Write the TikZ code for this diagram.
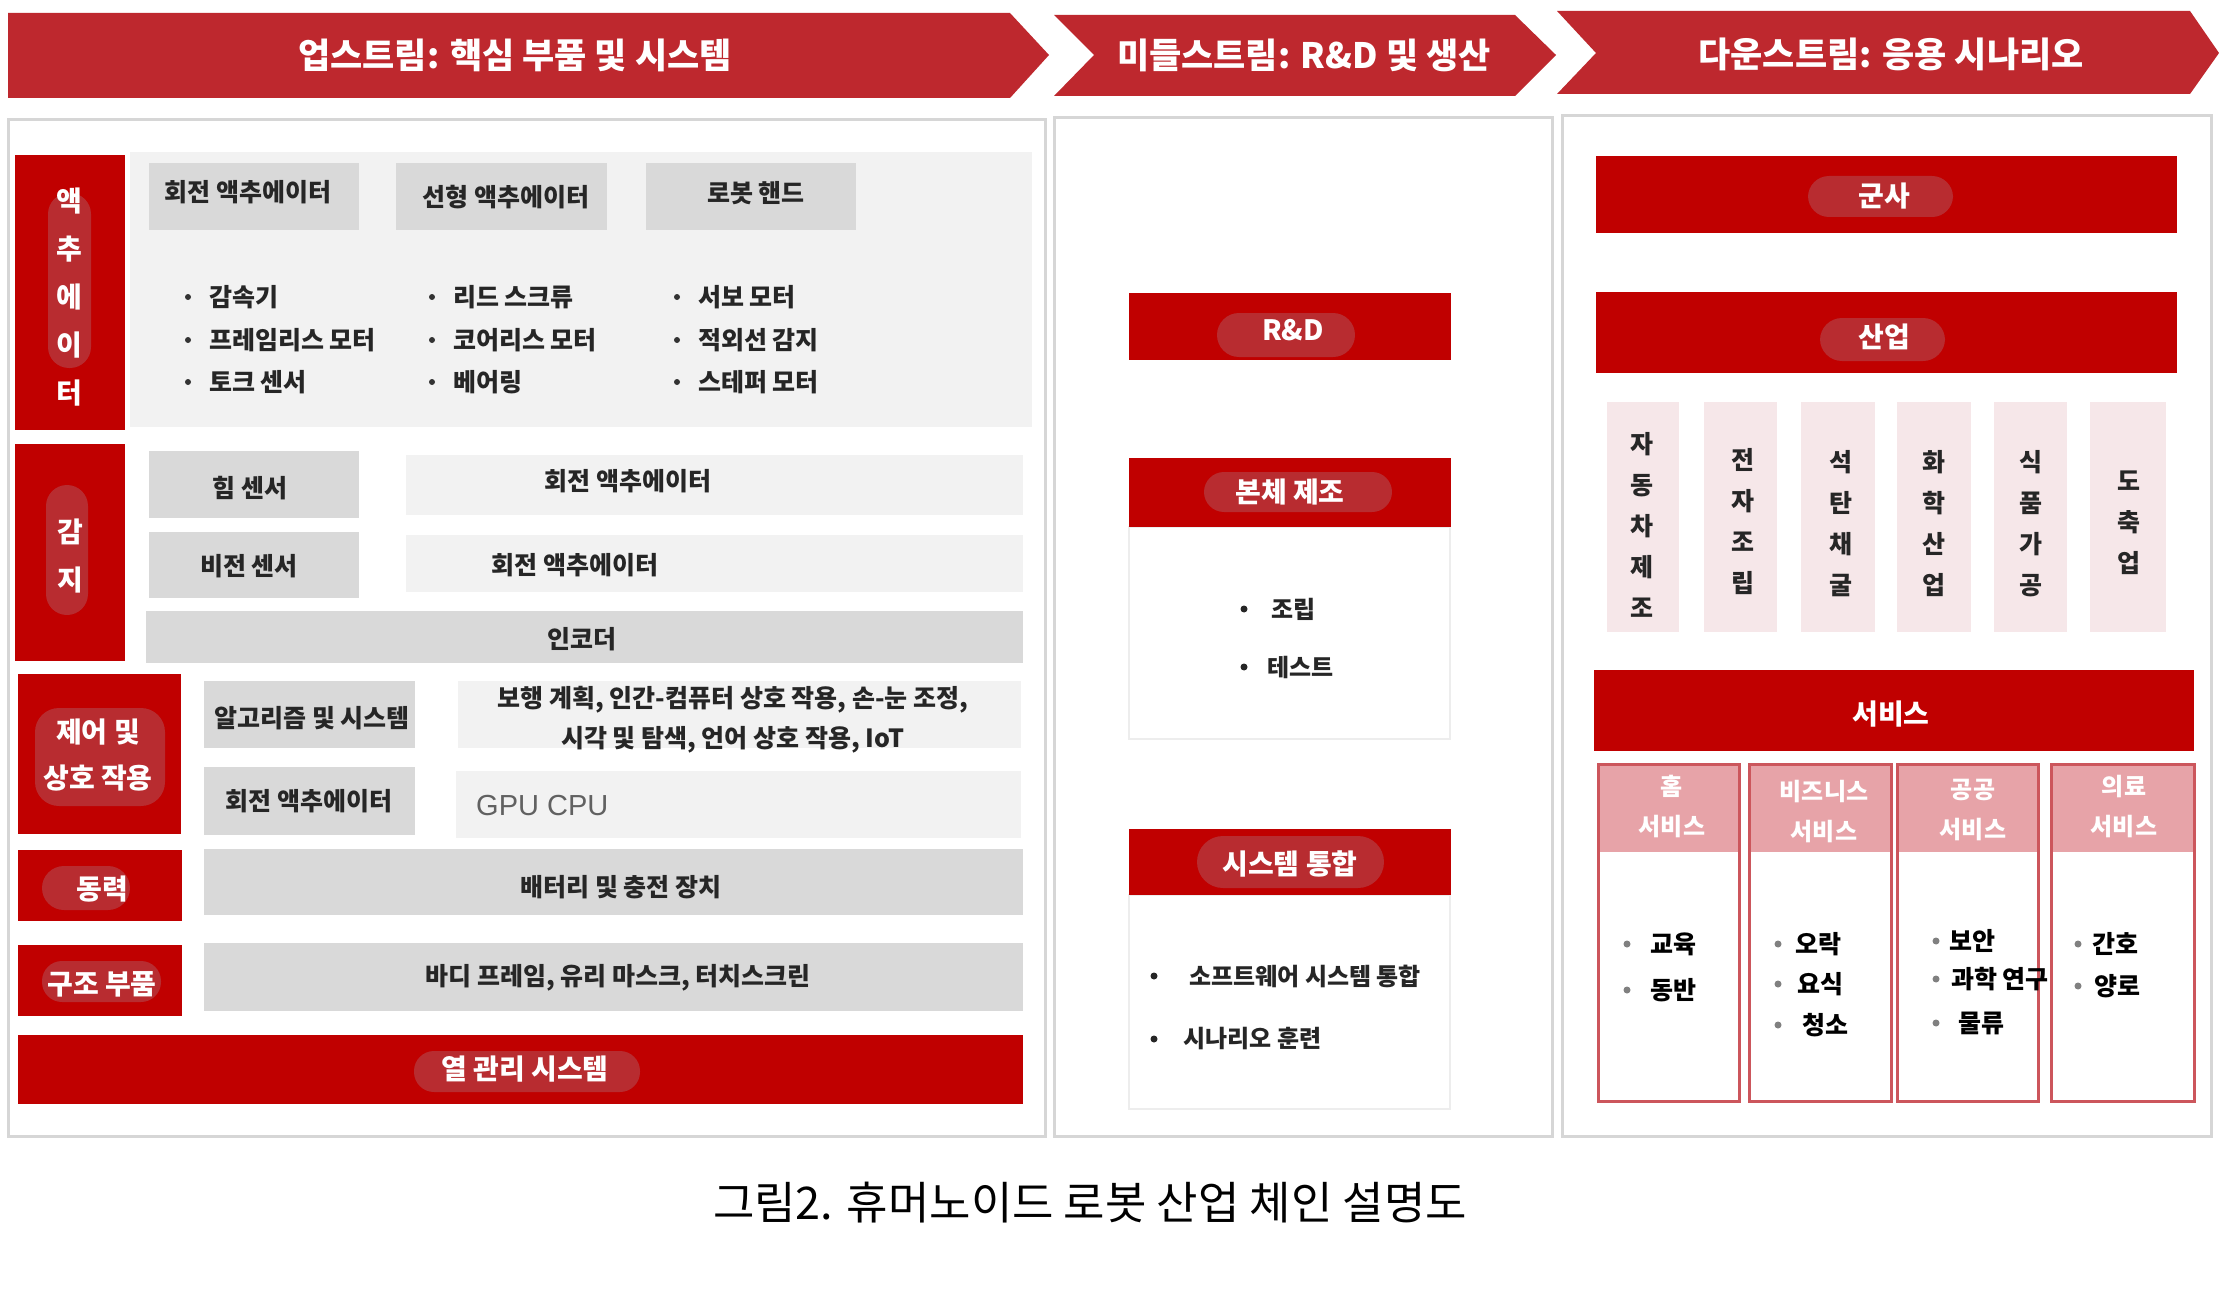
\documentclass[tikz,border=0pt]{standalone}
\usepackage{fontspec}
\usepackage{xcolor}
\usepackage{tikz}
\setmainfont{Noto Sans CJK KR}
\newfontfamily\latinsans{Liberation Sans}

\definecolor{bannerred}{RGB}{190,40,46}
\definecolor{barred}{RGB}{192,0,0}
\definecolor{pillred}{RGB}{184,44,48}
\definecolor{boxgray}{RGB}{217,217,217}
\definecolor{paleGray}{RGB}{242,242,242}
\definecolor{panelgray}{RGB}{214,214,214}
\definecolor{colpink}{RGB}{246,231,233}
\definecolor{headpink}{RGB}{231,163,168}
\definecolor{servborder}{RGB}{204,86,92}

\begin{document}
\begin{tikzpicture}[x=1pt, y=-1pt,
		banner/.style={fill=bannerred},
		redbar/.style={fill=barred},
		pill/.style={fill=pillred, rounded corners=#1}, pill/.default=20pt,
		graybox/.style={fill=boxgray},
		lightbox/.style={fill=paleGray},
		panel/.style={draw=panelgray, line width=3pt},
		framebox/.style={draw=black!7, line width=2pt, fill=white},
		title/.style={text=white, inner sep=2pt, font=\fontsize{35}{40}\selectfont\bfseries},
		barlabel/.style={text=white, inner sep=2pt, font=\fontsize{28}{34}\selectfont\bfseries},
		vlabel/.style={text=white, inner sep=2pt, align=center, font=\fontsize{28}{48}\selectfont\bfseries},
		itemlabel/.style={text=black!85, inner sep=2pt, font=\fontsize{25}{30}\selectfont\bfseries},
		headlabel/.style={text=white, inner sep=2pt, align=center, font=\fontsize{24}{40}\selectfont\bfseries},
		collabel/.style={text=black!85, inner sep=2pt, align=center, font=\fontsize{25}{41}\selectfont\bfseries}]
		
		\useasboundingbox (0,0) rectangle (2219,1300);
		\fill[white] (0,0) rectangle (2219,1300);
		
		% panels and banners
		\draw[panel] (8,120) rectangle (1045,1136);
		\draw[panel] (1054,118) rectangle (1552,1136);
		\draw[panel] (1562,116) rectangle (2211,1136);
		
		\fill[banner] (8,13) -- (1010,13) -- (1049,55) -- (1010,98) -- (8,98) -- cycle;
		\node[title] (upTitle) at (515,55) {업스트림: 핵심 부품 및 시스템};
		\fill[banner] (1054,15) -- (1515,15) -- (1556,55) -- (1515,96) -- (1054,96) -- (1094,55) -- cycle;
		\node[title] (midTitle) at (1304,55) {미들스트림: R\&D 및 생산};
		\fill[banner] (1557,11) -- (2190,11) -- (2219,53) -- (2190,94) -- (1557,94) -- (1596,53) -- cycle;
		\node[title] (downTitle) at (1891,54) {다운스트림: 응용 시나리오};
		
		% upstream
		\fill[lightbox] (130,152) rectangle (1032,427);
		\fill[redbar] (15,155) rectangle (125,430);
		\fill[pill=21pt] (48,193) rectangle (91,368);
		\node[vlabel] (actLabel) at (69,297) {액\\추\\에\\이\\터};
		\fill[graybox] (149,163) rectangle (359,230);
		\node[itemlabel] (rotAct) at (248,192) {회전 액추에이터};
		\fill[graybox] (396,163) rectangle (607,230);
		\node[itemlabel] (linAct) at (506,197) {선형 액추에이터};
		\fill[graybox] (646,163) rectangle (856,230);
		\node[itemlabel] (hand) at (756,193) {로봇 핸드};
		\foreach \x/\y/\txt [count=\i] in {188/297/감속기, 188/340/프레임리스 모터, 188/382/토크 센서,
				432/297/리드 스크류, 432/340/코어리스 모터, 432/382/베어링,
				677/297/서보 모터, 677/340/적외선 감지, 677/382/스테퍼 모터}
		{
			\fill[black!80] (\x,\y) circle [radius=3];
			\node[itemlabel, anchor=west] (actItem\i) at (\x+19,\y) {\txt};
		}
		
		\fill[redbar] (15,444) rectangle (125,661);
		\fill[pill=21pt] (46,485) rectangle (88,615);
		\node[vlabel] (senseLabel) at (70,556) {감\\지};
		\fill[graybox] (149,451) rectangle (359,518);
		\node[itemlabel] (forceSensor) at (250,488) {힘 센서};
		\fill[lightbox] (406,455) rectangle (1023,515);
		\node[itemlabel] (senseActA) at (628,481) {회전 액추에이터};
		\fill[graybox] (149,532) rectangle (359,598);
		\node[itemlabel] (visionSensor) at (249,566) {비전 센서};
		\fill[lightbox] (406,535) rectangle (1023,592);
		\node[itemlabel] (senseActB) at (575,565) {회전 액추에이터};
		\fill[graybox] (146,611) rectangle (1023,663);
		\node[itemlabel] (encoder) at (582,639) {인코더};
		
		\fill[redbar] (18,674) rectangle (181,834);
		\fill[pill=24pt] (35,708) rectangle (165,806);
		\node[vlabel, font=\fontsize{28}{46}\selectfont\bfseries] (ctrlLabel) at (98,755) {제어 및\\상호 작용};
		\fill[graybox] (204,681) rectangle (415,748);
		\node[itemlabel] (algo) at (312,718) {알고리즘 및 시스템};
		\fill[lightbox] (458,681) rectangle (1021,748);
		\node[itemlabel, align=center, font=\fontsize{25}{40}\selectfont\bfseries] (algoApps) at (733,720)
			{보행 계획, 인간-컴퓨터 상호 작용, 손-눈 조정,\\시각 및 탐색, 언어 상호 작용, IoT};
		\fill[graybox] (204,767) rectangle (415,835);
		\node[itemlabel] (ctrlAct) at (309,801) {회전 액추에이터};
		\fill[lightbox] (456,771) rectangle (1021,838);
		\node[anchor=west, inner sep=2pt, text=black!62, font=\latinsans\fontsize{29}{34}\selectfont] (gpuCpu) at (474,806) {GPU CPU};
		
		\fill[redbar] (18,850) rectangle (182,921);
		\fill[pill=22pt] (42,866) rectangle (130,910);
		\node[barlabel] (powerLabel) at (102,889) {동력};
		\fill[graybox] (204,849) rectangle (1023,915);
		\node[itemlabel] (battery) at (621,887) {배터리 및 충전 장치};
		
		\fill[redbar] (18,945) rectangle (182,1016);
		\fill[pill=20pt] (42,961) rectangle (161,1002);
		\node[barlabel] (structLabel) at (102,984) {구조 부품};
		\fill[graybox] (204,943) rectangle (1023,1011);
		\node[itemlabel] (bodyParts) at (618,978) {바디 프레임, 유리 마스크, 터치스크린};
		
		\fill[redbar] (18,1035) rectangle (1023,1104);
		\fill[pill=20pt] (414,1051) rectangle (640,1092);
		\node[barlabel] (thermalLabel) at (525,1069) {열 관리 시스템};
		
		% midstream
		\fill[redbar] (1129,293) rectangle (1451,360);
		\fill[pill=22pt] (1217,313) rectangle (1355,357);
		\node[barlabel] (rdLabel) at (1293,330) {R\&D};
		
		\draw[framebox] (1129,527) rectangle (1450,739);
		\fill[redbar] (1129,458) rectangle (1451,527);
		\fill[pill=20pt] (1204,472) rectangle (1392,512);
		\node[barlabel] (mfgLabel) at (1290,492) {본체 제조};
		
		\draw[framebox] (1129,895) rectangle (1450,1109);
		\fill[redbar] (1129,829) rectangle (1451,895);
		\fill[pill=26pt] (1197,836) rectangle (1384,888);
		\node[barlabel] (sysLabel) at (1290,864) {시스템 통합};
		
		\foreach \x/\tx/\y/\txt [count=\i] in {1244/1269/609/조립, 1244/1265/667/테스트,
				1154/1187/976/소프트웨어 시스템 통합, 1154/1181/1039/시나리오 훈련}
		{
			\fill[black!85] (\x,\y) circle [radius=3.5];
			\node[itemlabel, anchor=west, font=\fontsize{24}{30}\selectfont\bfseries] (midItem\i) at (\tx,\y) {\txt};
		}
		
		% downstream
		\fill[redbar] (1596,156) rectangle (2177,233);
		\fill[pill=21pt] (1808,176) rectangle (1953,217);
		\node[barlabel] (milLabel) at (1884,196) {군사};
		
		\fill[redbar] (1596,292) rectangle (2177,373);
		\fill[pill=22pt] (1820,318) rectangle (1945,361);
		\node[barlabel] (indLabel) at (1884,337) {산업};
		
		\foreach \xa/\xb/\tx/\ty/\txt [count=\i] in {1607/1679/1642/525/{자\\동\\차\\제\\조},
				1704/1777/1743/522/{전\\자\\조\\립}, 1801/1875/1841/524/{석\\탄\\채\\굴},
				1897/1971/1934/524/{화\\학\\산\\업}, 1994/2067/2031/524/{식\\품\\가\\공},
				2090/2166/2129/523/{도\\축\\업}}
		{
			\fill[colpink] (\xa,402) rectangle (\xb,632);
			\node[collabel] (indCol\i) at (\tx,\ty) {\txt};
		}
		
		\fill[redbar] (1594,670) rectangle (2194,751);
		\node[barlabel] (svcLabel) at (1891,714) {서비스};
		
		\foreach \xa/\xb/\tx/\ty/\txt [count=\i] in {1598/1739/1672/806/{홈\\서비스},
				1749/1891/1824/812/{비즈니스\\서비스}, 1897/2038/1973/810/{공공\\서비스},
				2051/2194/2124/807/{의료\\서비스}}
		{
			\fill[white] (\xa,764) rectangle (\xb,1101);
			\fill[headpink] (\xa,764) rectangle (\xb,852);
			\draw[servborder, line width=3pt] (\xa,764) rectangle (\xb,1101);
			\node[headlabel] (svcHead\i) at (\tx,\ty) {\txt};
		}
		
		\foreach \x/\tx/\y/\txt [count=\i] in {1627/1648/944/교육, 1627/1648/990/동반,
				1778/1793/944/오락, 1778/1795/984/요식, 1778/1800/1025/청소,
				1936/1947/941/보안, 1936/1949/979/과학 연구, 1936/1956/1023/물류,
				2078/2090/944/간호, 2078/2092/986/양로}
		{
			\fill[black!50] (\x,\y) circle [radius=3.5];
			\node[itemlabel, anchor=west, text=black] (svcItem\i) at (\tx,\y) {\txt};
		}
		
		\node[font=\fontsize{45}{52}\selectfont] (caption) at (1090,1203) {그림2. 휴머노이드 로봇 산업 체인 설명도};
	\end{tikzpicture}
\end{document}
